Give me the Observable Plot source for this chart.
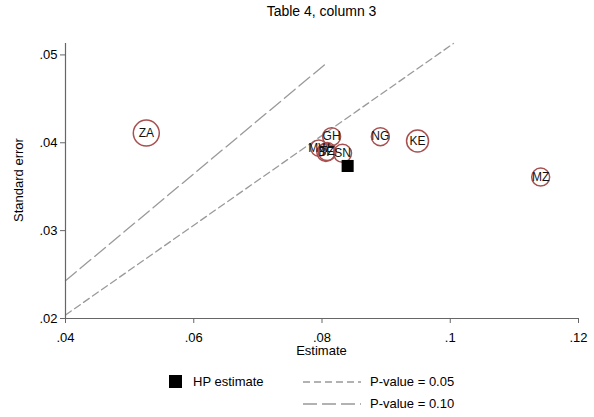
<!DOCTYPE html>
<html><head><meta charset="utf-8">
<script src="https://cdn.jsdelivr.net/npm/d3@7"></script>
<script src="https://cdn.jsdelivr.net/npm/@observablehq/plot@0.6"></script>
<style>
body{margin:0;background:#fff;font-family:"Liberation Sans",Arial,sans-serif;color:#000;}
#wrap{position:relative;width:594px;height:417px;overflow:hidden;}
#title{position:absolute;left:65px;width:513px;top:3px;text-align:center;font-size:14px;}
#chart{position:absolute;left:0;top:24px;}
#xlab{position:absolute;left:65px;width:513px;top:343px;text-align:center;font-size:13px;}
#ylab{position:absolute;left:18px;top:180px;font-size:13px;transform:translate(-50%,-50%) rotate(-90deg);white-space:nowrap;}
.leg{position:absolute;font-size:13px;display:flex;align-items:center;}
</style></head>
<body><div id="wrap">
<div id="title">Table 4, column 3</div>
<div id="chart"></div>
<div id="xlab">Estimate</div>
<div id="ylab">Standard error</div>
<div class="leg" style="left:169px;top:374px;"><svg width="14" height="14"><rect x="0" y="0" width="13" height="13" fill="#000"/></svg><span style="margin-left:10px">HP estimate</span></div>
<div class="leg" style="left:303px;top:374px;"><svg width="58" height="14"><line x1="0" x2="58" y1="7" y2="7" stroke="#999" stroke-width="1.3" stroke-dasharray="7,4"/></svg><span style="margin-left:9px">P-value = 0.05</span></div>
<div class="leg" style="left:303px;top:396px;"><svg width="58" height="14"><line x1="0" x2="58" y1="7" y2="7" stroke="#999" stroke-width="1.3" stroke-dasharray="14,5"/></svg><span style="margin-left:9px">P-value = 0.10</span></div>
</div>
<script>
// Country estimates
const codes     = ["ZA",   "GH",   "NG",   "KE",   "MZ",   "SN",   "BF",   "TZ",   "MW"];
const estimates = [0.0526, 0.0815, 0.0891, 0.0949, 0.1141, 0.0832, 0.0806, 0.0808, 0.0795];
const stderrs   = [0.0411, 0.0407, 0.0407, 0.0402, 0.0361, 0.0388, 0.0389, 0.0390, 0.0394];
const weights   = [1.9,    0.91,   0.91,   1.36,   0.91,   0.91,   0.91,   0.91,   0.75];
// HP estimate
const hpEstimate = [0.0840];
const hpStderr   = [0.03736];
// P-value lines (endpoints)
const p05Est = [0.04, 0.1005];
const p05Se  = [0.0204, 0.0513];
const p10Est = [0.04, 0.0806];
const p10Se  = [0.0243, 0.0490];
// Ticks
const xTicks = [0.04, 0.06, 0.08, 0.10, 0.12];
const xTickLabels = [".04", ".06", ".08", ".1", ".12"];
const yTicks = [0.02, 0.03, 0.04, 0.05];
const yTickLabels = [".02", ".03", ".04", ".05"];

const pts = codes.map((c, i) => ({code: c, e: estimates[i], s: stderrs[i], w: weights[i]}));
const hp = hpEstimate.map((e, i) => ({e, s: hpStderr[i]}));
const l05 = p05Est.map((e, i) => ({e, s: p05Se[i]}));
const l10 = p10Est.map((e, i) => ({e, s: p10Se[i]}));

const axisColor = "#666";
const plot = Plot.plot({
  width: 594, height: 340,
  marginLeft: 65, marginRight: 16, marginTop: 19, marginBottom: 46,
  style: {fontFamily: '"Liberation Sans", Arial, sans-serif', fontSize: "13px", background: "transparent", color: "#000"},
  x: {domain: [0.04, 0.12]},
  y: {domain: [0.02, 0.0513]},
  r: {type: "sqrt", domain: [0, 1.9], range: [0, 13]},
  marks: [
    Plot.line(l05, {x: "e", y: "s", stroke: "#9a9a9a", strokeWidth: 1.3, strokeDasharray: "7,4"}),
    Plot.line(l10, {x: "e", y: "s", stroke: "#9a9a9a", strokeWidth: 1.3, strokeDasharray: "14,5"}),
    Plot.dot(pts, {x: "e", y: "s", r: "w", stroke: "#a85050", strokeWidth: 1.5, fill: "none"}),
    Plot.text(pts, {x: "e", y: "s", text: "code", fontSize: 12, fill: "#111"}),
    Plot.dot(hp, {x: "e", y: "s", symbol: "square", r: 6.8, fill: "#000", stroke: "none"}),
    Plot.ruleY([0.02], {stroke: axisColor, strokeWidth: 1.2}),
    Plot.ruleX([0.04], {stroke: axisColor, strokeWidth: 1.2}),
    Plot.axisX({ticks: xTicks, tickFormat: (d) => xTickLabels[xTicks.indexOf(d)], tickSize: 5, tickPadding: 9, stroke: axisColor, label: null}),
    Plot.axisY({ticks: yTicks, tickFormat: (d) => yTickLabels[yTicks.indexOf(d)], tickSize: 5, tickPadding: 3, stroke: axisColor, label: null})
  ]
});
document.getElementById("chart").appendChild(plot);
</script>
</body></html>
